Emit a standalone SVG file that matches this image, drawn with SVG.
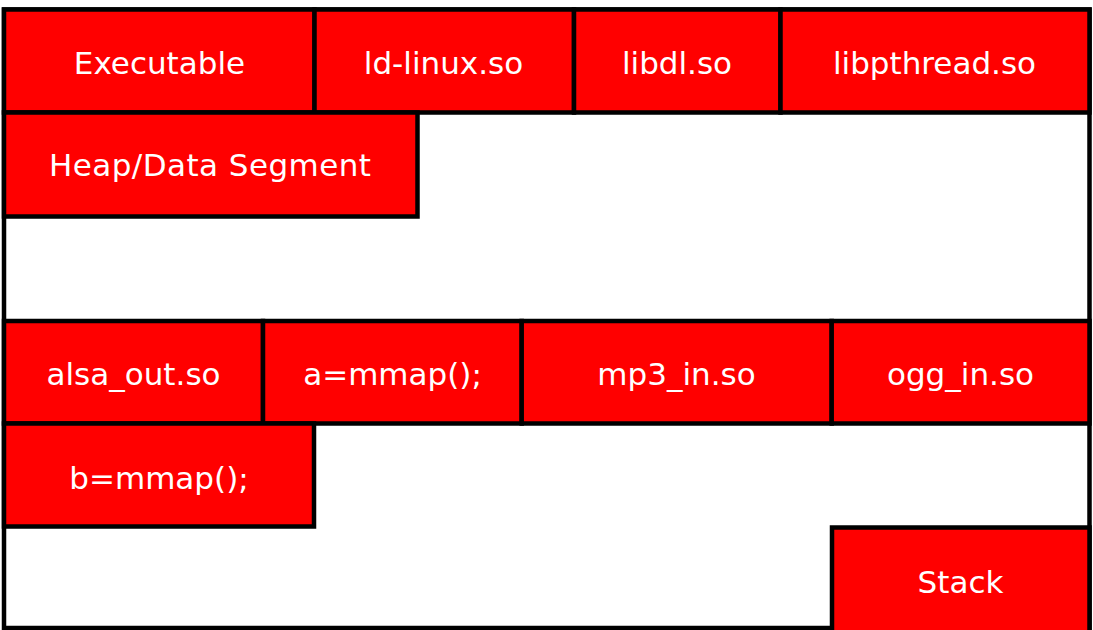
<svg xmlns="http://www.w3.org/2000/svg" width="1093" height="630" viewBox="0 0 1093 630">
  <style>
    .frame { fill: #ffffff; stroke: #000000; stroke-width: 4.5; }
    .seg { fill: #ff0000; stroke: #000000; stroke-width: 4.5; }
    .lbl { fill: #ffffff; font-family: "DejaVu Sans", "Liberation Sans", sans-serif; font-size: 31px; text-anchor: middle; }
  </style>
  <rect width="1093" height="630" fill="#ffffff"/>
  <!-- process address space -->
  <rect class="frame" x="4" y="9.5" width="1085.5" height="618.5"/>

  <g id="executable">
    <rect class="seg" x="4" y="9.5" width="310.5" height="103"/>
    <text class="lbl" x="159.5" y="73.5">Executable</text>
  </g>
  <g id="ld-linux">
    <rect class="seg" x="314.5" y="9.5" width="259.5" height="103"/>
    <text class="lbl" x="443.5" y="73.5">ld-linux.so</text>
  </g>
  <g id="libdl">
    <rect class="seg" x="574" y="9.5" width="206.5" height="103"/>
    <text class="lbl" x="677" y="73.5">libdl.so</text>
  </g>
  <g id="libpthread">
    <rect class="seg" x="780.5" y="9.5" width="309" height="103"/>
    <text class="lbl" x="934.5" y="73.5">libpthread.so</text>
  </g>
  <g id="heap">
    <rect class="seg" x="4" y="112.5" width="413.5" height="104"/>
    <text class="lbl" x="210" y="176" textLength="322">Heap/Data Segment</text>
  </g>
  <g id="alsa-out">
    <rect class="seg" x="4" y="321" width="259" height="102.5"/>
    <text class="lbl" x="133.5" y="385">alsa_out.so</text>
  </g>
  <g id="mmap-a">
    <rect class="seg" x="263" y="321" width="258.7" height="102.5"/>
    <text class="lbl" x="392.5" y="385">a=mmap();</text>
  </g>
  <g id="mp3-in">
    <rect class="seg" x="521.7" y="321" width="310" height="102.5"/>
    <text class="lbl" x="676.5" y="385">mp3_in.so</text>
  </g>
  <g id="ogg-in">
    <rect class="seg" x="831.7" y="321" width="257.8" height="102.5"/>
    <text class="lbl" x="960.5" y="385">ogg_in.so</text>
  </g>
  <g id="mmap-b">
    <rect class="seg" x="4" y="423.5" width="310" height="103"/>
    <text class="lbl" x="159" y="488.5">b=mmap();</text>
  </g>
  <g id="stack">
    <rect class="seg" x="832" y="527.5" width="257.5" height="120"/>
    <text class="lbl" x="960.5" y="593">Stack</text>
  </g>
  <g id="connectors"/>
</svg>
